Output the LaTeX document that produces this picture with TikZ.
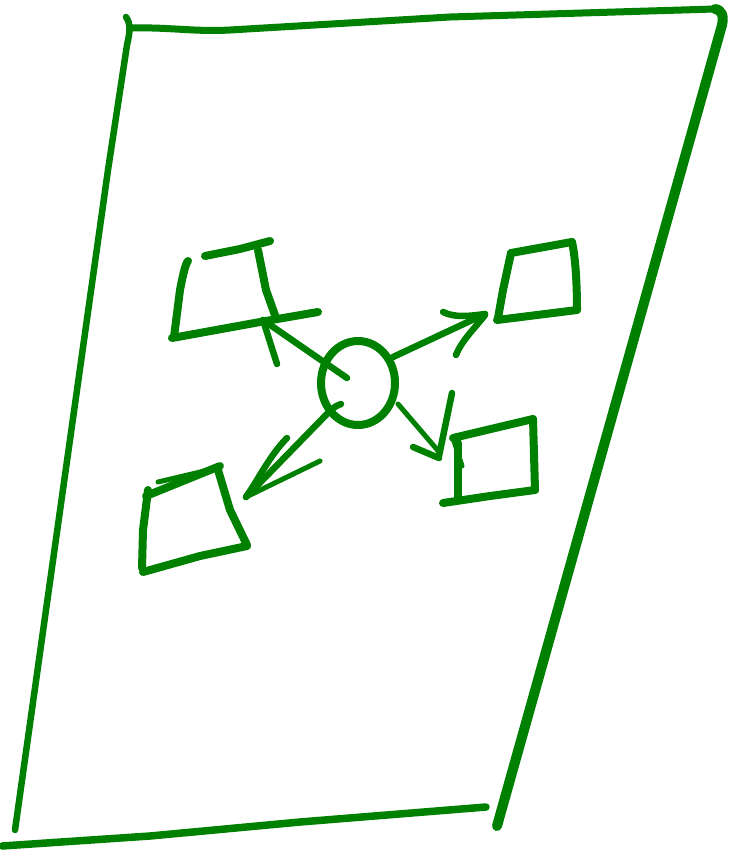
\documentclass[tikz,border=0pt]{standalone}
\definecolor{pen}{RGB}{0,128,0}
\begin{document}
\begin{tikzpicture}[x=1pt,y=-1pt,
  frame/.style={draw=pen,line width=6pt,line cap=round,line join=round},
  box/.style={draw=pen,line width=8pt,line cap=round,line join=round},
  arr/.style={draw=pen,line width=6.5pt,line cap=round,line join=round}]
\useasboundingbox (0,0) rectangle (730,850);
% frame
\draw[frame,line width=6.5pt] (126,17) .. controls (131,24) and (130,32) .. (127,45) -- (108,170) -- (15,830);
\draw[frame,line width=7pt] (130,28) .. controls (170,27) and (195,32) .. (230,30) -- (450,17) -- (715,9);
\draw[frame,line width=10pt] (715,9) .. controls (722,10) and (724,16) .. (722,25) -- (497,826);
\draw[frame,line width=7.5pt] (2,846) -- (150,836) -- (300,822) -- (486,807);
% top-left box
\draw[box] (205,256) -- (240,249) -- (270,241);
\draw[box] (188,261) .. controls (185,264) and (182,280) .. (180,290) -- (174,337);
\draw[box] (172,338) -- (260,322) -- (318,312);
\draw[box] (258,250) -- (266,290) -- (276,318);
\draw[arr] (347,378) -- (263,320);
\draw[arr] (263,320) -- (277,364);
% top-right box
\draw[box] (511,253) -- (572,242);
\draw[box] (572,242) .. controls (576,260) and (577,290) .. (577,310);
\draw[box] (497,320) -- (577,310);
\draw[box] (511,253) -- (503,290) -- (498,318);
\draw[arr] (393,357) -- (485,314);
\draw[arr] (443,312) .. controls (455,318) and (470,316) .. (485,314);
\draw[arr] (456,355) .. controls (462,340) and (475,328) .. (485,315);
% bottom-left box
\draw[box] (146,496) -- (220,466);
\draw[box,line width=5pt] (158,482) -- (213,469);
\draw[box] (218,470) -- (230,510) -- (247,545);
\draw[box] (143,572) -- (200,556) -- (247,546);
\draw[box] (148,490) -- (143,530) -- (142,568);
\draw[arr] (341,404) .. controls (335,406) and (330,410) .. (326,415) -- (246,497);
\draw[arr] (287,438) .. controls (270,455) and (258,480) .. (246,497);
\draw[arr,line width=5pt] (320,461) -- (246,497);
% bottom-right box
\draw[box] (453,438) -- (533,419);
\draw[box] (533,419) -- (535,490);
\draw[box] (443,503) -- (490,496) -- (535,490);
\draw[box] (458,443) -- (458,497);
\draw[arr,line width=5pt] (398,404) -- (440,453);
\draw[arr] (452,393) -- (439,456);
\draw[arr] (413,447) -- (439,458);
\draw[arr,line width=5pt] (454,441) -- (462,466);
% circle
\draw[box] (358,383) ellipse[x radius=37pt,y radius=42pt];
\end{tikzpicture}
\end{document}
